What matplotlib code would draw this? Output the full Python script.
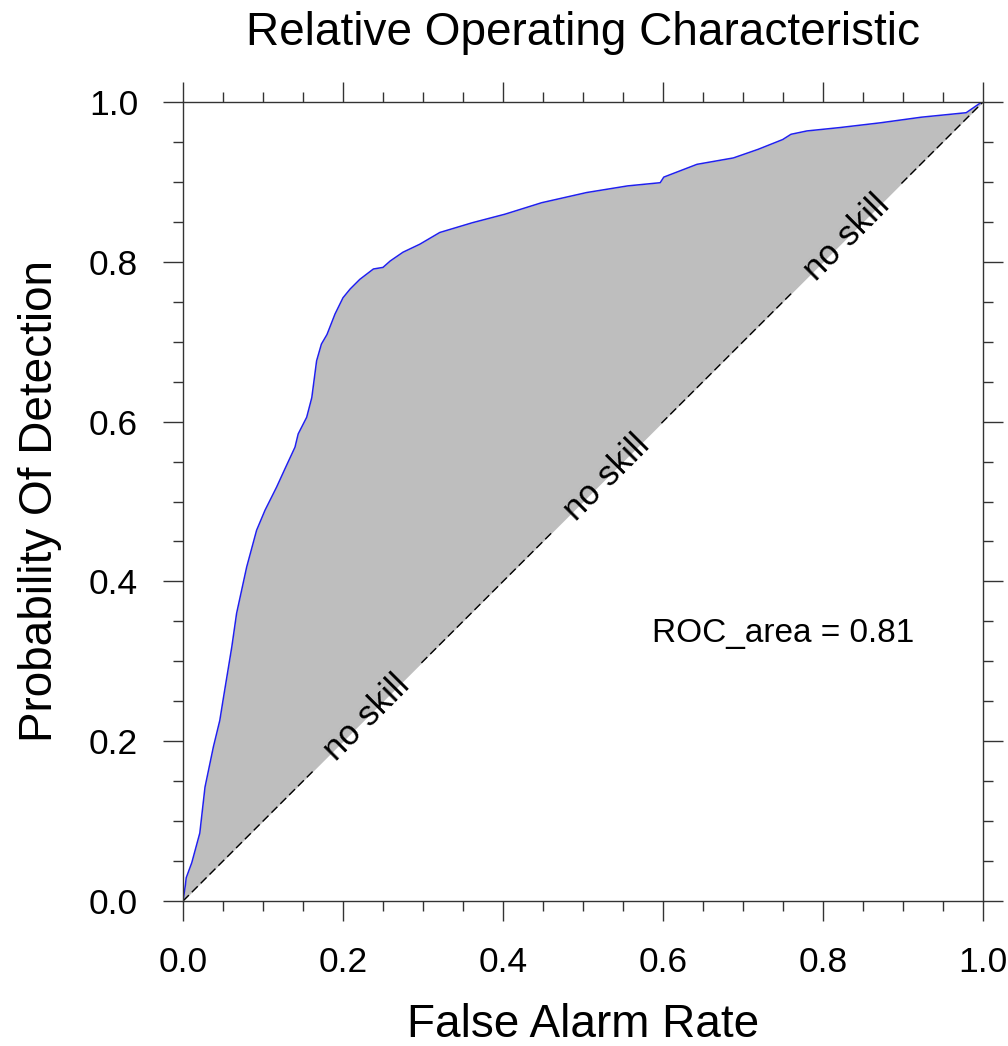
#!/usr/bin/env python3
"""ROC curve (Relative Operating Characteristic) redrawn in matplotlib."""
import matplotlib
matplotlib.use("Agg")
import matplotlib.pyplot as plt
import numpy as np
from matplotlib.ticker import MultipleLocator

plt.rcParams["font.family"] = ["Liberation Sans", "DejaVu Sans"]

# ROC curve
far = [0.0, 0.003, 0.004, 0.011, 0.021, 0.0275, 0.038, 0.046, 0.05, 0.061,
       0.067, 0.0796, 0.092, 0.1025, 0.117, 0.1275, 0.14, 0.144, 0.1546, 0.161,
       0.167, 0.173, 0.18, 0.19, 0.2, 0.209, 0.221, 0.238, 0.25, 0.259,
       0.275, 0.296, 0.321, 0.362, 0.4025, 0.4485, 0.5046, 0.5558, 0.5965, 0.601,
       0.6425, 0.688, 0.719, 0.7496, 0.76, 0.78, 0.821, 0.872, 0.923, 0.979,
       0.997, 1.0]
pod = [0.0, 0.02, 0.029, 0.048, 0.085, 0.1425, 0.193, 0.226, 0.251, 0.318,
       0.36, 0.418, 0.464, 0.489, 0.518, 0.541, 0.568, 0.5846, 0.6054, 0.630,
       0.676, 0.697, 0.709, 0.7346, 0.755, 0.766, 0.778, 0.791, 0.793, 0.801,
       0.812, 0.822, 0.8367, 0.849, 0.8596, 0.874, 0.8867, 0.895, 0.899, 0.906,
       0.922, 0.930, 0.9408, 0.953, 0.9596, 0.9638, 0.968, 0.974, 0.981, 0.9866,
       0.999, 1.0]
roc_area = 0.81

# where the "no skill" labels sit on the diagonal
skill_pos = [0.23, 0.53, 0.83]
skill_gap = 0.068


def main():
    fig = plt.figure(figsize=(10.08, 10.46), dpi=100)
    ax = fig.add_axes([183 / 1008, 145 / 1046, 800 / 1008, 799 / 1046])

    x = np.asarray(far)
    y = np.asarray(pod)
    ax.fill_between(x, y, x, color="#bebebe", linewidth=0)
    ax.plot(x, y, color="#2020ee", linewidth=1.1)

    # dashed no-skill diagonal, broken where the labels sit
    edges = [0.0]
    for p in skill_pos:
        edges += [p - skill_gap, p + skill_gap]
    edges.append(1.0)
    for a, b in zip(edges[::2], edges[1::2]):
        ax.plot([a, b], [a, b], color="black", linewidth=1.0,
                linestyle=(0, (6, 3)))
    for p in skill_pos:
        ax.text(p, p, "no skill", rotation=45, rotation_mode="anchor",
                ha="center", va="center", fontsize=25)

    ax.text(0.75, 0.335, f"ROC_area = {roc_area:.2f}", ha="center",
            va="center", fontsize=24)

    ax.set_xlim(0, 1)
    ax.set_ylim(0, 1)
    ax.xaxis.set_major_locator(MultipleLocator(0.2))
    ax.xaxis.set_minor_locator(MultipleLocator(0.05))
    ax.yaxis.set_major_locator(MultipleLocator(0.2))
    ax.yaxis.set_minor_locator(MultipleLocator(0.05))
    ax.xaxis.set_major_formatter(lambda v, _: f"{v:.1f}")
    ax.yaxis.set_major_formatter(lambda v, _: f"{v:.1f}")
    ax.tick_params(which="both", direction="out", top=True, right=True,
                   width=1.0, color="#333333", labelsize=25.5, pad=18)
    ax.tick_params(which="major", length=14.4)
    ax.tick_params(which="minor", length=7.2)
    for s in ax.spines.values():
        s.set_linewidth(1.0)
        s.set_color("#333333")

    ax.set_xlabel("False Alarm Rate", fontsize=33, va="baseline")
    ax.xaxis.set_label_coords(0.5, -0.170)
    ax.set_ylabel("Probability Of Detection", fontsize=33, va="baseline")
    ax.yaxis.set_label_coords(-0.164, 0.5)
    fig.text(0.5 * (183 + 983) / 1008, 1 - 45 / 1046,
             "Relative Operating Characteristic", ha="center",
             va="baseline", fontsize=33)

    fig.savefig("out.png", dpi=100)
    plt.close(fig)


if __name__ == "__main__":
    main()
